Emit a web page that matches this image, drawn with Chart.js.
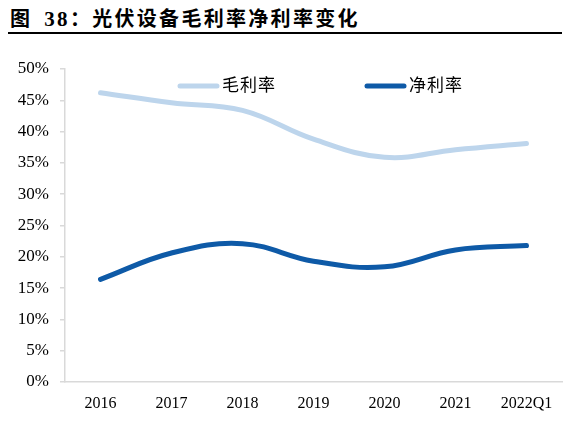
<!DOCTYPE html>
<html>
<head>
<meta charset="utf-8">
<script src="https://cdn.jsdelivr.net/npm/chart.js@4.4.0/dist/chart.umd.min.js"></script>
<style>
    body {
        margin: 0;
        background: #fff;
    }
    .wrap {
        position: relative;
        width: 568px;
        height: 430px;
        overflow: hidden;
    }
    .title {
        position: absolute;
        left: 10px;
        top: 3px;
        font-family: "Liberation Serif", "Noto Sans CJK SC", serif;
        font-weight: bold;
        font-size: 20px;
        letter-spacing: 2.3px;
        color: #000;
        white-space: nowrap;
    }
    .title .num {
        margin-left: 12px;
        font-size: 21px;
    }
    .rule {
        position: absolute;
        left: 8px;
        top: 32px;
        width: 554px;
        height: 2px;
        background: #000;
    }
    canvas {
        position: absolute;
        left: 0;
        top: 0;
    }
</style>
</head>
<body>
<div class="wrap">
    <div class="title">图<span class="num">38</span>：光伏设备毛利率净利率变化</div>
    <div class="rule"></div>
    <canvas id="chart" width="568" height="430"></canvas>
</div>
<script>
const categories = ["2016", "2017", "2018", "2019", "2020", "2021", "2022Q1"];
const grossMargin = [46.2, 44.6, 43.4, 38.8, 35.9, 37.1, 38.1];
const netMargin = [16.4, 20.6, 22.1, 19.3, 18.4, 21.1, 21.8];
const seriesNames = ["毛利率", "净利率"];
const yTicks = [0, 5, 10, 15, 20, 25, 30, 35, 40, 45, 50];

// legend drawn inside the plot area, like the original
const innerLegend = {
    id: "innerLegend",
    afterDraw: function (chart) {
        const ctx = chart.ctx;
        const spots = [[180, 86], [367, 86]];
        ctx.save();
        chart.data.datasets.forEach(function (ds, i) {
            const x = spots[i][0];
            const y = spots[i][1];
            ctx.strokeStyle = ds.borderColor;
            ctx.lineWidth = 5;
            ctx.lineCap = "round";
            ctx.beginPath();
            ctx.moveTo(x, y);
            ctx.lineTo(x + 37, y);
            ctx.stroke();
            ctx.fillStyle = "#000";
            ctx.font = '17px "Noto Sans CJK SC"';
            ctx.textBaseline = "middle";
            ctx.letterSpacing = "1px";
            ctx.fillText(ds.label, x + 42, y - 1);
        });
        ctx.restore();
    }
};

new Chart(document.getElementById("chart"), {
    type: "line",
    data: {
        labels: categories,
        datasets: [{
            label: seriesNames[0],
            data: grossMargin,
            borderColor: "#bdd5ec",
            borderWidth: 5,
            tension: 0.4,
            pointRadius: 0,
            borderCapStyle: "round",
            fill: false
        }, {
            label: seriesNames[1],
            data: netMargin,
            borderColor: "#0e5aa7",
            borderWidth: 5,
            tension: 0.4,
            pointRadius: 0,
            borderCapStyle: "round",
            fill: false
        }]
    },
    options: {
        responsive: false,
        animation: false,
        layout: {
            padding: { top: 69, right: 6, left: 0, bottom: 0 }
        },
        plugins: {
            legend: { display: false },
            tooltip: { enabled: false }
        },
        scales: {
            x: {
                offset: true,
                grid: { display: false, drawTicks: false },
                border: { color: "#d9d9d9", width: 1.5 },
                ticks: {
                    color: "#000",
                    padding: 12,
                    maxRotation: 0,
                    autoSkip: false,
                    font: { family: "Liberation Serif", size: 16 }
                },
                afterFit: function (scale) {
                    scale.height = 48;
                }
            },
            y: {
                min: 0,
                max: 50,
                afterBuildTicks: function (scale) {
                    scale.ticks = yTicks.map(function (v) { return { value: v }; });
                },
                grid: {
                    drawOnChartArea: false,
                    drawTicks: true,
                    tickLength: 5,
                    color: "#d9d9d9",
                    lineWidth: 1.5
                },
                border: { color: "#d9d9d9", width: 1.5 },
                ticks: {
                    color: "#000",
                    padding: 11,
                    font: { family: "Liberation Serif", size: 17 },
                    callback: function (v) { return v + "%"; }
                },
                afterFit: function (scale) {
                    scale.width = 65;
                }
            }
        }
    },
    plugins: [innerLegend]
});
</script>
</body>
</html>
